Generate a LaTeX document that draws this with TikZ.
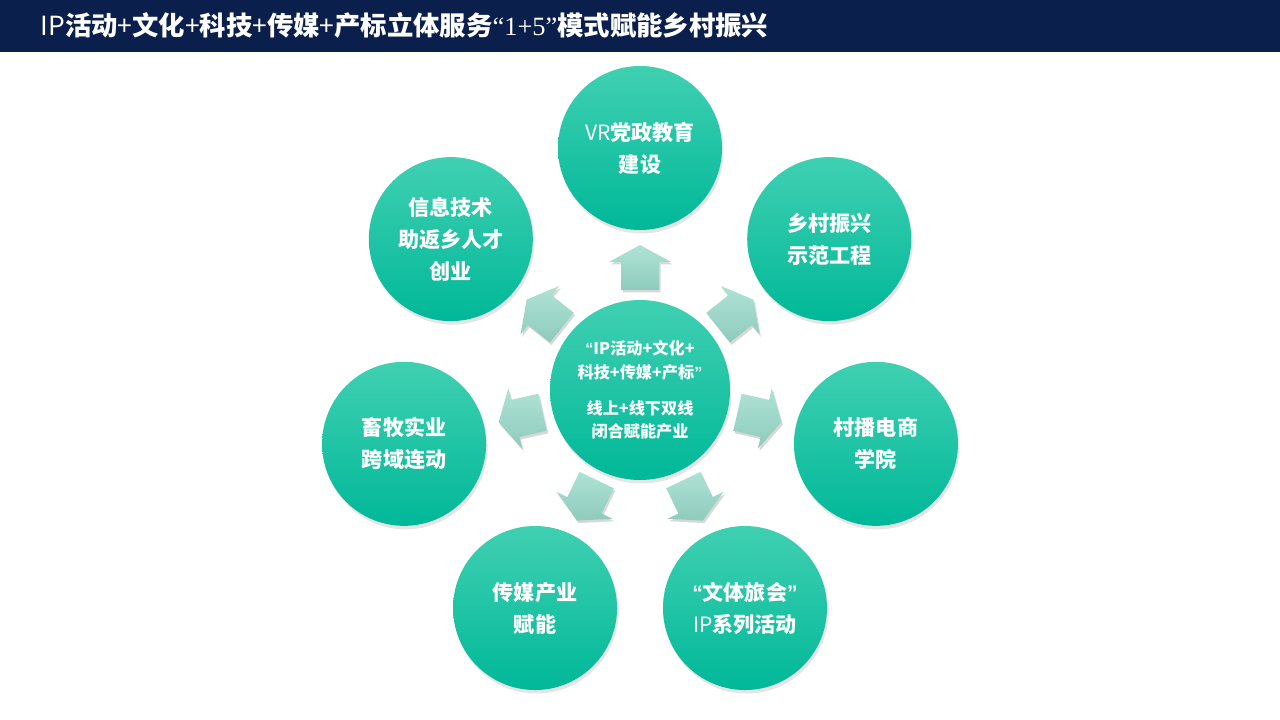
\documentclass[tikz,border=0pt]{standalone}
\usepackage{fontspec}
\setmainfont{Liberation Sans}
\newfontfamily\cjk{Noto Sans CJK SC}
\newfontfamily\serifnum{Liberation Serif}
\usetikzlibrary{shadows}
\definecolor{navy}{HTML}{0B1F4D}
\definecolor{tealtop}{HTML}{40D0B2}
\definecolor{tealmid}{HTML}{0CC6A6}
\definecolor{tealbot}{HTML}{00B898}
\definecolor{minttop}{HTML}{AEE3D5}
\definecolor{mintbot}{HTML}{8ECBBC}
\tikzset{
  ball/.style={circle, minimum size=1.64cm, inner sep=0pt, align=center, text=white,
    top color=tealtop, middle color=tealmid, bottom color=tealbot,
    drop shadow={opacity=.2, shadow xshift=.015cm, shadow yshift=-.035cm},
    font=\cjk\bfseries\fontsize{6}{9.1}\selectfont},
  hub/.style={ball, minimum size=1.8cm, font=\cjk\bfseries\fontsize{4.6}{6.8}\selectfont},
  push/.style={top color=minttop, bottom color=mintbot,
    drop shadow={opacity=.3, shadow xshift=.015cm, shadow yshift=-.025cm}}
}
\begin{document}
\begin{tikzpicture}[line join=round, declare function={d=2.42;}]
	\useasboundingbox (0,0) rectangle (12.8,7.2);
	\fill[white] (0,0) rectangle (12.8,7.2);
	% title bar
	\fill[navy] (0,6.68) rectangle (12.8,7.2);
	\node[anchor=west, text=white, inner sep=0pt, font=\cjk\fontsize{7.5}{8}\selectfont] (title) at (0.4,6.94)
		{IP{\bfseries 活动}+{\bfseries 文化}+{\bfseries 科技}+{\bfseries 传媒}+{\bfseries 产标立体服务}{\serifnum “1+5”}{\bfseries 模式赋能乡村振兴}};
	\path (6.4,3.3) coordinate (O);
	% arrows
	\foreach \a in {90,38.57,-12.86,-64.29,-115.71,-167.14,141.43}
	\shade[push, shift={(O)}, rotate=\a-90]
		(0,1.45) -- (0.31,1.28) -- (0.19,1.28) -- (0.19,1.0) -- (-0.19,1.0) -- (-0.19,1.28) -- (-0.31,1.28) -- cycle;
	\node[hub] (hub) at (O) {{\rmfamily“}IP活动+文化+\\科技+传媒+产标{\rmfamily”}\\[0.12cm]线上+线下双线\\闭合赋能产业};
	\foreach \i/\a/\t in {0/90/{{\mdseries VR}党政教育\\建设},
		1/38.57/{乡村振兴\\示范工程},
		2/-12.86/{村播电商\\学院},
		3/-64.29/{{\rmfamily“}文体旅会{\rmfamily”}\\{\mdseries IP}系列活动},
		4/-115.71/{传媒产业\\赋能},
		5/-167.14/{畜牧实业\\跨域连动},
		6/141.43/{信息技术\\助返乡人才\\创业}}
	\node[ball] (c\i) at ([shift={(\a:d)}]O) {\t};
\end{tikzpicture}
\end{document}
